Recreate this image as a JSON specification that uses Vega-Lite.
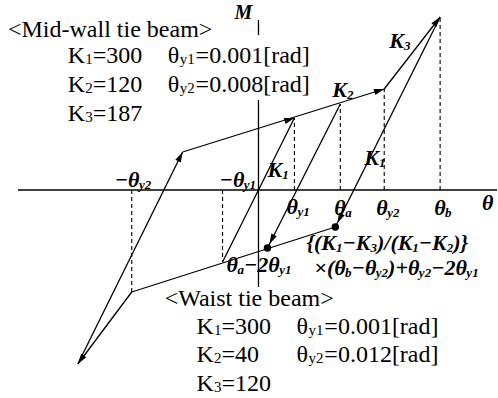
{
  "$schema": "https://vega.github.io/schema/vega-lite/v6.json",
  "width": 498,
  "height": 398,
  "autosize": {"type": "fit", "contains": "padding"},
  "padding": 0,
  "background": "white",
  "config": {"view": {"stroke": null}},
  "datasets": {
    "segments": [
      {"t": -36, "m": -72, "t2": 36, "m2": 72},
      {"t": -76, "m": 38, "t2": 126, "m2": 101},
      {"t": 126, "m": 101, "t2": 182, "m2": 173},
      {"t": 182, "m": 173, "t2": 77, "m2": -37},
      {"t": 82, "m": 86, "t2": 9, "m2": -58},
      {"t": -127, "m": -102, "t2": 77, "m2": -37},
      {"t": -127, "m": -102, "t2": -181, "m2": -174},
      {"t": -181, "m": -174, "t2": -76, "m2": 38},
      {"t": -241, "m": 0, "t2": 239, "m2": 0},
      {"t": 0, "m": 170, "t2": 0, "m2": 155},
      {"t": 0, "m": 90, "t2": 0, "m2": -97}
    ],
    "dashes": [
      {"t": 36, "m": 0, "m2": 72},
      {"t": 82, "m": 0, "m2": 86},
      {"t": 126, "m": 0, "m2": 101},
      {"t": 182, "m": 0, "m2": 173},
      {"t": -36, "m": 0, "m2": -72},
      {"t": -127, "m": 0, "m2": -102}
    ],
    "dots": [
      {"t": 9, "m": -58},
      {"t": 77, "m": -37}
    ],
    "arrows": [
      {"t": 36, "m": 72, "dir": "K2"},
      {"t": 126, "m": 101, "dir": "K2"},
      {"t": 182, "m": 173, "dir": "K3"},
      {"t": 79, "m": -33, "dir": "K1down"},
      {"t": 11, "m": -54, "dir": "K1down"},
      {"t": -76, "m": 38, "dir": "K1up"},
      {"t": -181, "m": -174, "dir": "K3neg"}
    ],
    "axisName": [
      {"t": -24, "m": 171, "s": "M"}
    ],
    "plain": [
      {"t": -251, "m": 153, "s": "<Mid-wall tie beam>"},
      {"t": -191, "m": 127, "s": "K"},
      {"t": -166, "m": 127, "s": "=300"},
      {"t": -91, "m": 127, "s": "θ"},
      {"t": -63, "m": 127, "s": "=0.001[rad]"},
      {"t": -191, "m": 98, "s": "K"},
      {"t": -166, "m": 98, "s": "=120"},
      {"t": -91, "m": 98, "s": "θ"},
      {"t": -63, "m": 98, "s": "=0.008[rad]"},
      {"t": -191, "m": 69, "s": "K"},
      {"t": -166, "m": 69, "s": "=187"},
      {"t": -94, "m": -116, "s": "<Waist tie beam>"},
      {"t": -62, "m": -144, "s": "K"},
      {"t": -37, "m": -144, "s": "=300"},
      {"t": 38, "m": -144, "s": "θ"},
      {"t": 66, "m": -144, "s": "=0.001[rad]"},
      {"t": -62, "m": -172, "s": "K"},
      {"t": -37, "m": -172, "s": "=40"},
      {"t": 38, "m": -172, "s": "θ"},
      {"t": 66, "m": -172, "s": "=0.012[rad]"},
      {"t": -62, "m": -201, "s": "K"},
      {"t": -37, "m": -201, "s": "=120"}
    ],
    "plainSub": [
      {"t": -173.5, "m": 127, "s": "1"},
      {"t": -79, "m": 127, "s": "y1"},
      {"t": -173.5, "m": 98, "s": "2"},
      {"t": -79, "m": 98, "s": "y2"},
      {"t": -173.5, "m": 69, "s": "3"},
      {"t": -44.5, "m": -144, "s": "1"},
      {"t": 50, "m": -144, "s": "y1"},
      {"t": -44.5, "m": -172, "s": "2"},
      {"t": 50, "m": -172, "s": "y2"},
      {"t": -44.5, "m": -201, "s": "3"}
    ],
    "bold": [
      {"t": -144, "m": 3, "s": "−θ"},
      {"t": -39, "m": 3, "s": "−θ"},
      {"t": 28, "m": -24, "s": "θ"},
      {"t": 76, "m": -25, "s": "θ"},
      {"t": 118, "m": -25, "s": "θ"},
      {"t": 176, "m": -25, "s": "θ"},
      {"t": 224, "m": -20, "s": "θ"},
      {"t": 9, "m": 13, "s": "K"},
      {"t": 106, "m": 25, "s": "K"},
      {"t": 74, "m": 93, "s": "K"},
      {"t": 131, "m": 142, "s": "K"},
      {"t": -32, "m": -82, "s": "θ"},
      {"t": -14.5, "m": -82, "s": "−2θ"},
      {"t": 48, "m": -60, "s": "{(K"},
      {"t": 84.2, "m": -60, "s": "−K"},
      {"t": 118.7, "m": -60, "s": ")/(K"},
      {"t": 160.6, "m": -60, "s": "−K"},
      {"t": 195.1, "m": -60, "s": ")}"},
      {"t": 56, "m": -85, "s": "×(θ"},
      {"t": 93.3, "m": -85, "s": "−θ"},
      {"t": 129.9, "m": -85, "s": ")+θ"},
      {"t": 173, "m": -85, "s": "−2θ"}
    ],
    "boldSub": [
      {"t": -119.7, "m": 3, "s": "y2"},
      {"t": -14.7, "m": 3, "s": "y1"},
      {"t": 39, "m": -24, "s": "y1"},
      {"t": 87, "m": -25, "s": "a"},
      {"t": 129, "m": -25, "s": "y2"},
      {"t": 187, "m": -25, "s": "b"},
      {"t": 23.7, "m": 13, "s": "1"},
      {"t": 120.7, "m": 25, "s": "1"},
      {"t": 88.7, "m": 93, "s": "2"},
      {"t": 145.7, "m": 142, "s": "3"},
      {"t": -21, "m": -82, "s": "a"},
      {"t": 20.8, "m": -82, "s": "y1"},
      {"t": 77.7, "m": -60, "s": "1"},
      {"t": 112.2, "m": -60, "s": "3"},
      {"t": 154.1, "m": -60, "s": "1"},
      {"t": 188.6, "m": -60, "s": "2"},
      {"t": 86.8, "m": -85, "s": "b"},
      {"t": 117.6, "m": -85, "s": "y2"},
      {"t": 160.7, "m": -85, "s": "y2"},
      {"t": 208.3, "m": -85, "s": "y1"}
    ]
  },
  "encoding": {
    "x": {"field": "t", "type": "quantitative", "scale": {"domain": [-259, 239], "nice": false, "zero": false}, "axis": null},
    "y": {"field": "m", "type": "quantitative", "scale": {"domain": [-208, 190], "nice": false, "zero": false}, "axis": null}
  },
  "layer": [
    {
      "data": {"name": "segments"},
      "mark": {"type": "rule", "color": "black", "strokeWidth": 1.3},
      "encoding": {"x2": {"field": "t2"}, "y2": {"field": "m2"}}
    },
    {
      "data": {"name": "dashes"},
      "mark": {"type": "rule", "color": "black", "strokeWidth": 1.1, "strokeDash": [4, 3]},
      "encoding": {"y2": {"field": "m2"}}
    },
    {
      "data": {"name": "dots"},
      "mark": {"type": "point", "filled": true, "color": "black", "opacity": 1, "size": 55}
    },
    {
      "data": {"name": "arrows"},
      "transform": [{"filter": "datum.dir == 'K2'"}],
      "mark": {"type": "point", "filled": true, "color": "black", "opacity": 1, "size": 420, "shape": "M0,0L-1,-0.3L-1,0.3Z", "angle": 342.7}
    },
    {
      "data": {"name": "arrows"},
      "transform": [{"filter": "datum.dir == 'K3'"}],
      "mark": {"type": "point", "filled": true, "color": "black", "opacity": 1, "size": 420, "shape": "M0,0L-1,-0.3L-1,0.3Z", "angle": 307.9}
    },
    {
      "data": {"name": "arrows"},
      "transform": [{"filter": "datum.dir == 'K1down'"}],
      "mark": {"type": "point", "filled": true, "color": "black", "opacity": 1, "size": 420, "shape": "M0,0L-1,-0.3L-1,0.3Z", "angle": 116.7}
    },
    {
      "data": {"name": "arrows"},
      "transform": [{"filter": "datum.dir == 'K1up'"}],
      "mark": {"type": "point", "filled": true, "color": "black", "opacity": 1, "size": 420, "shape": "M0,0L-1,-0.3L-1,0.3Z", "angle": 296.4}
    },
    {
      "data": {"name": "arrows"},
      "transform": [{"filter": "datum.dir == 'K3neg'"}],
      "mark": {"type": "point", "filled": true, "color": "black", "opacity": 1, "size": 420, "shape": "M0,0L-1,-0.3L-1,0.3Z", "angle": 125}
    },
    {
      "data": {"name": "axisName"},
      "mark": {"type": "text", "font": "Liberation Serif", "fontSize": 20, "fontWeight": "bold", "fontStyle": "italic", "align": "left", "baseline": "alphabetic", "color": "black"},
      "encoding": {"text": {"field": "s"}}
    },
    {
      "data": {"name": "plain"},
      "mark": {"type": "text", "font": "Liberation Serif", "fontSize": 24, "align": "left", "baseline": "alphabetic", "color": "black"},
      "encoding": {"text": {"field": "s"}}
    },
    {
      "data": {"name": "plainSub"},
      "mark": {"type": "text", "font": "Liberation Serif", "fontSize": 15, "align": "left", "baseline": "alphabetic", "dy": 1, "color": "black"},
      "encoding": {"text": {"field": "s"}}
    },
    {
      "data": {"name": "bold"},
      "mark": {"type": "text", "font": "Liberation Serif", "fontSize": 22, "fontWeight": "bold", "fontStyle": "italic", "align": "left", "baseline": "alphabetic", "color": "black"},
      "encoding": {"text": {"field": "s"}}
    },
    {
      "data": {"name": "boldSub"},
      "mark": {"type": "text", "font": "Liberation Serif", "fontSize": 13, "fontWeight": "bold", "fontStyle": "italic", "align": "left", "baseline": "alphabetic", "dy": 2, "color": "black"},
      "encoding": {"text": {"field": "s"}}
    }
  ]
}
